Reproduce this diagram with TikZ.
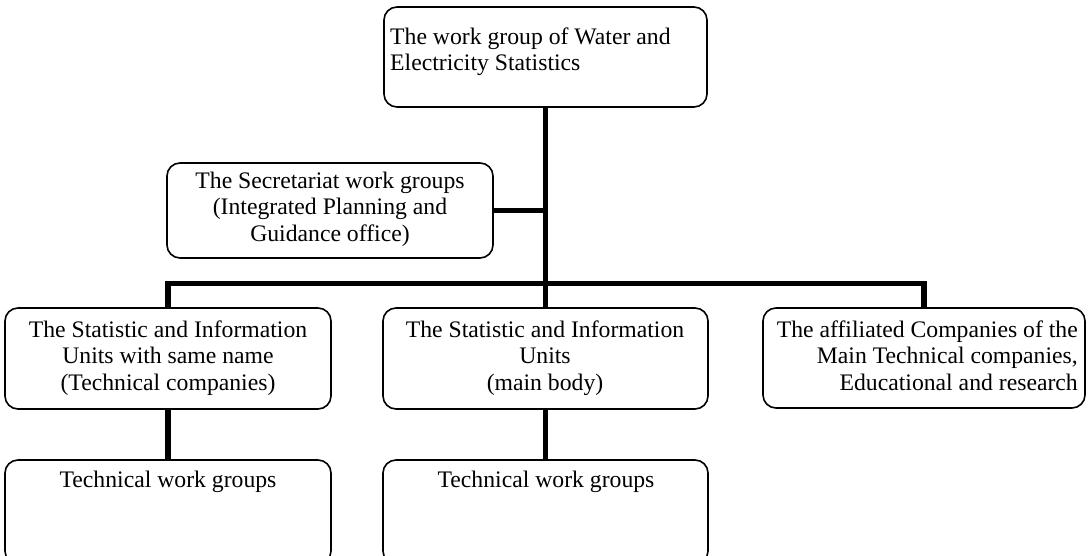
\documentclass[tikz,border=0pt]{standalone}
\usepackage{fontspec}
\setmainfont{Liberation Serif}
\tikzset{
  box/.style={draw=black, line width=1.6pt, rounded corners=13pt, fill=white, inner sep=0pt},
  conn/.style={line width=5.5pt, line join=miter},
  txt/.style={inner sep=0pt, font=\fontsize{23.7}{26.5}\selectfont},
}
\begin{document}
\begin{tikzpicture}[x=1pt,y=-1pt]
\clip (0,0) rectangle (1092,556);
\fill[white] (0,0) rectangle (1092,556);
% boxes
\node[box, minimum width=323pt, minimum height=100pt] (top) at (545.5,57) {};
\node[box, minimum width=326pt, minimum height=95pt] (sec) at (330,210.5) {};
\node[box, minimum width=326pt, minimum height=101pt] (left) at (168,358.5) {};
\node[box, minimum width=325pt, minimum height=101pt] (mid) at (545.5,358.5) {};
\node[box, minimum width=322pt, minimum height=100pt] (right) at (924,358) {};
\node[box, minimum width=326pt, minimum height=104pt] (bl) at (168,512) {};
\node[box, minimum width=325pt, minimum height=104pt] (bm) at (545.5,512) {};
% connectors
\draw[conn] (top.south) -- (mid.north);
\draw[conn] (sec.east) -- (sec.east -| top.south);
\draw[conn] (left.north) -- ++(0,-23.5) -| (right.north);
\draw[conn] (left.south) -- (bl.north);
\draw[conn] (mid.south) -- (bm.north);
% texts
\node[txt, anchor=north west, align=left] (ttop) at (390,25.5) {\strut The work group of Water and\\Electricity Statistics};
\node[txt, anchor=north, align=center] (tsec) at (330,169.5) {\strut The Secretariat work groups\\(Integrated Planning and\\Guidance office)};
\node[txt, anchor=north, align=center] (tleft) at (168,318.5) {\strut The Statistic and Information\\Units with same name\\(Technical companies)};
\node[txt, anchor=north, align=center] (tmid) at (545,318.5) {\strut The Statistic and Information\\Units\\(main body)};
\node[txt, anchor=north east, align=right] (tright) at (1078,318.5) {\strut The affiliated Companies of the\\Main Technical companies,\\Educational and research};
\node[txt, anchor=north] (tbl) at (168,468.5) {\strut Technical work groups};
\node[txt, anchor=north] (tbm) at (546,468.5) {\strut Technical work groups};
\end{tikzpicture}
\end{document}
